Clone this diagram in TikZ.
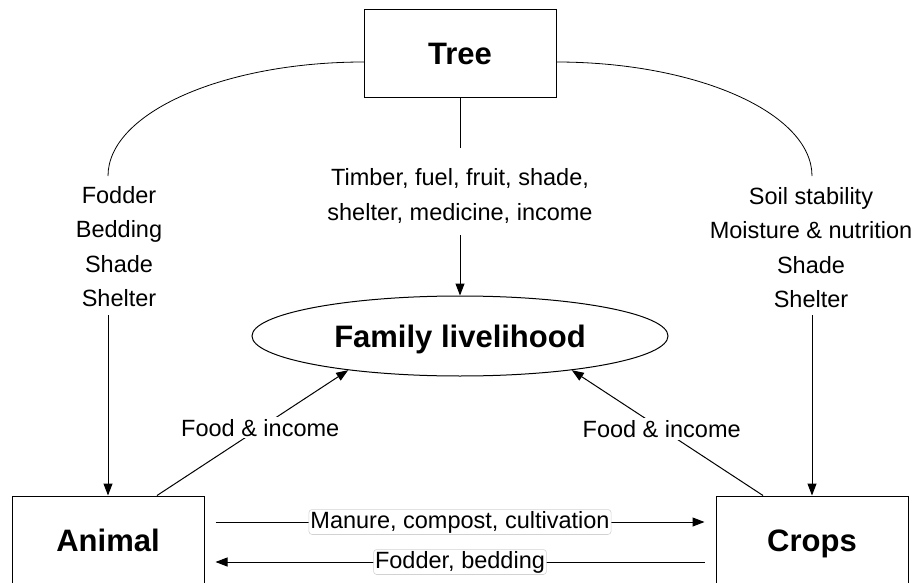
\documentclass[tikz,border=0pt]{standalone}
\usepackage{fontspec}
\setmainfont{Liberation Sans}
\usetikzlibrary{arrows.meta,shapes.geometric}
\begin{document}
\begin{tikzpicture}[x=1pt,y=1pt,
  box/.style={draw,line width=1pt,minimum width=192pt,minimum height=88pt,inner sep=0pt,
    text height=22pt,text depth=0pt,font=\fontsize{31}{36}\selectfont\bfseries},
  ell/.style={draw,ellipse,line width=1pt,minimum width=416pt,minimum height=80pt,inner sep=0pt,
    text height=22pt,text depth=0pt,font=\fontsize{31}{36}\selectfont\bfseries},
  lbl/.style={align=center,font=\fontsize{23.5}{34.5}\selectfont,inner sep=2pt},
  arr/.style={line width=1pt,-{Triangle[length=12pt,width=9pt]}},
  ln/.style={line width=1pt},
  crv/.style={line width=0.8pt},
  halo/.style={lbl,fill=white,draw=gray!35,line width=0.6pt,rounded corners=3pt,inner sep=1.5pt}]
\useasboundingbox (0,0) rectangle (918,-583);
\clip (0,0) rectangle (918,-583);

% main nodes
\node[box] (tree) at (460,-54) {Tree};
\node[ell] (fam) at (460,-336) {Family livelihood};
\node[box] (animal) at (108,-540) {Animal};
\node[box] (crops) at (812,-540) {Crops};

% labels
\node[lbl] (mid) at (460,-196) {Timber, fuel, fruit, shade,\\shelter, medicine, income};
\node[lbl] (left) at (119,-246.5) {Fodder\\Bedding\\Shade\\Shelter};
\node[lbl] (right) at (811,-247.5) {Soil stability\\Moisture \& nutrition\\Shade\\Shelter};

% free ends
\coordinate (tl) at (364,-62);
\coordinate (tr) at (556,-62);
\coordinate (lt) at (108,-176);
\coordinate (rt) at (812,-176);
\coordinate (lb) at (108,-315);
\coordinate (rb) at (812,-315);
\coordinate (mt) at (460,-148);
\coordinate (mb) at (460,-235);

% tree connectors
\draw[crv] (tl) .. controls (223,-62) and (108,-113) .. (lt);
\draw[crv] (tr) .. controls (697,-62) and (812,-113) .. (rt);
\draw[ln] (tree) -- (mt);
\draw[arr] (mb) -- (fam);
\draw[arr] (lb) -- (animal);
\draw[arr] (rb) -- (crops);

% food & income
\draw[arr] ([xshift=49pt]animal.north) -- node[lbl,fill=white,pos=0.54]{Food \& income} (fam.197);
\draw[arr] ([xshift=-49pt]crops.north) -- node[lbl,fill=white,pos=0.53]{Food \& income} (fam.343);

% bottom exchanges
\draw[arr] ([shift={(11pt,18pt)}]animal.east) -- node[halo]{Manure, compost, cultivation} ([shift={(-11pt,18pt)}]crops.west);
\draw[arr] ([shift={(-11pt,-22pt)}]crops.west) -- node[halo]{Fodder, bedding} ([shift={(11pt,-22pt)}]animal.east);
\end{tikzpicture}
\end{document}
